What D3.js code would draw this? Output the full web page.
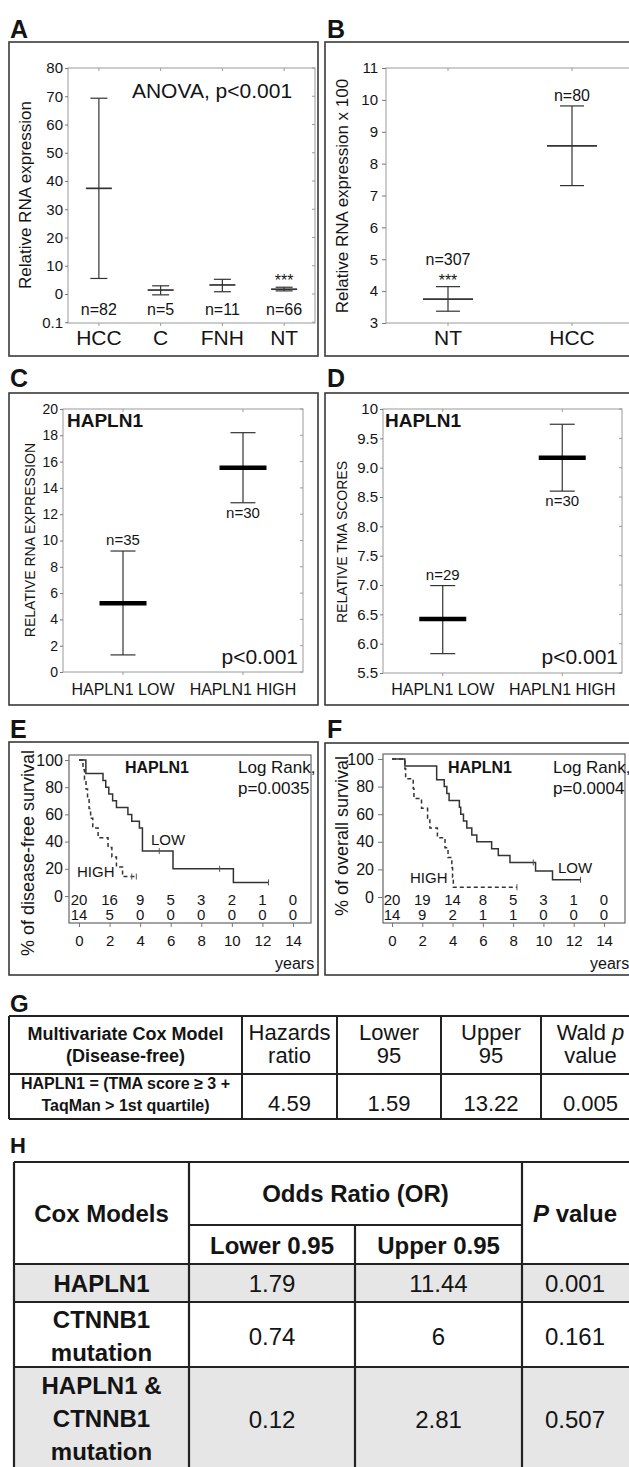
<!DOCTYPE html>
<html><head><meta charset="utf-8">
<script src="https://cdn.jsdelivr.net/npm/d3@7"></script>
<style>
body{margin:0;background:#fff}
svg{display:block}
text{font-family:"Liberation Sans",Arial,Helvetica,sans-serif;fill:#141414}
</style>
</head><body>
<svg id="fig" width="629" height="1467"></svg>
<script>
// ---------------- DATA ----------------
// Panel A
const aCategories = ["HCC", "C", "FNH", "NT"];
const aMean  = [37.4, 1.4, 3.2, 1.7];
const aUpper = [69.3, 2.9, 5.2, 2.4];
const aLower = [5.5, -0.3, 0.8, 1.1];
const aN     = ["n=82", "n=5", "n=11", "n=66"];
const aStars = ["", "", "", "***"];
const aTicks = [-10, 0, 10, 20, 30, 40, 50, 60, 70, 80];
const aTickLabels = ["0.1", "0", "10", "20", "30", "40", "50", "60", "70", "80"];
// Panel B
const bCategories = ["NT", "HCC"];
const bMean  = [3.75, 8.56];
const bUpper = [4.14, 9.81];
const bLower = [3.37, 7.31];
const bN     = ["n=307", "n=80"];
const bStars = ["***", ""];
const bTicks = [3, 4, 5, 6, 7, 8, 9, 10, 11];
// Panel C
const cCategories = ["HAPLN1 LOW", "HAPLN1 HIGH"];
const cMean  = [5.22, 15.54];
const cUpper = [9.2, 18.2];
const cLower = [1.3, 12.87];
const cN     = ["n=35", "n=30"];
const cNPos  = ["above", "below"];
const cTicks = [0, 2, 4, 6, 8, 10, 12, 14, 16, 18, 20];
// Panel D
const dCategories = ["HAPLN1 LOW", "HAPLN1 HIGH"];
const dMean  = [6.42, 9.17];
const dUpper = [6.99, 9.74];
const dLower = [5.83, 8.6];
const dN     = ["n=29", "n=30"];
const dNPos  = ["above", "below"];
const dTicks = [5.5, 6, 6.5, 7, 7.5, 8, 8.5, 9, 9.5, 10];
// Panels E/F (Kaplan-Meier)
const kmYearTicks = [0, 2, 4, 6, 8, 10, 12, 14];
const kmPctTicks  = [0, 20, 40, 60, 80, 100];
const eLowTimes  = [0, 0.45, 1.57, 1.75, 1.95, 2.2, 2.45, 3.2, 3.45, 3.95, 4.15, 6.15, 10.1];
const eLowSurv   = [100, 90, 85, 80, 75, 70, 65, 60, 55, 50, 33, 20, 10];
const eLowEnd    = 12.4;
const eLowCensor = [5.25, 9.2, 12.4];
const eHighTimes  = [0, 0.26, 0.36, 0.46, 0.56, 0.66, 0.76, 0.9, 1.25, 1.9, 2.15, 2.45, 2.85];
const eHighSurv   = [100, 92.9, 85.7, 78.6, 71.4, 64.3, 57.1, 50, 42.9, 35.7, 28.6, 21.4, 14.3];
const eHighEnd    = 3.75;
const eHighCensor = [3.45, 3.75];
const eRiskLow  = [20, 16, 9, 5, 3, 2, 1, 0];
const eRiskHigh = [14, 5, 0, 0, 0, 0, 0, 0];
const fLowTimes  = [0, 0.85, 2.95, 3.45, 3.62, 3.77, 4.45, 4.54, 4.72, 4.94, 5.27, 5.6, 6.58, 7.02, 7.79, 9.48, 10.6];
const fLowSurv   = [100, 95, 85, 80, 75, 70, 65, 60, 55, 50, 45, 40, 35, 30, 25, 18.8, 12.5];
const fLowEnd    = 12.45;
const fLowCensor = [9.33, 12.45];
const fHighTimes  = [0, 0.85, 0.9, 1.4, 1.45, 1.95, 2.35, 2.5, 3.0, 3.5, 3.7, 3.95, 4.0, 4.05];
const fHighSurv   = [100, 92.9, 85.7, 78.6, 71.4, 64.3, 57.1, 50, 42.9, 35.7, 28.6, 21.4, 14.3, 7.1];
const fHighEnd    = 8.25;
const fHighCensor = [8.25];
const fRiskLow  = [20, 19, 14, 8, 5, 3, 1, 0];
const fRiskHigh = [14, 9, 2, 1, 1, 0, 0, 0];
// Panel G table
const gHeader = [["Multivariate Cox Model", "(Disease-free)"], ["Hazards", "ratio"], ["Lower", "95"], ["Upper", "95"], ["Wald p", "value"]];
const gModel  = ["HAPLN1 = (TMA score \u2265 3 +", "TaqMan > 1st quartile)"];
const gValues = ["4.59", "1.59", "13.22", "0.005"];
// Panel H table
const hModels = [["HAPLN1"], ["CTNNB1", "mutation"], ["HAPLN1 &", "CTNNB1", "mutation"]];
const hLower  = ["1.79", "0.74", "0.12"];
const hUpper  = ["11.44", "6", "2.81"];
const hP      = ["0.001", "0.161", "0.507"];
const hShade  = [true, false, true];

// ---------------- DRAWING ----------------
const svg = d3.select("#fig");
const FONT = '"Liberation Sans", Arial, Helvetica, sans-serif';
const INK = "#141414";

function txt(g, x, y, s, o = {}) {
  const t = g.append("text").attr("x", x).attr("y", y).text(s)
    .attr("font-size", o.size || 15).attr("text-anchor", o.anchor || "start");
  if (o.bold) t.attr("font-weight", "bold");
  if (o.rotate) t.attr("transform", `rotate(-90 ${x} ${y})`);
  return t;
}
function frame(x, y, w, h) {
  svg.append("rect").attr("x", x).attr("y", y).attr("width", w).attr("height", h)
    .attr("fill", "none").attr("stroke", "#3a3a3a").attr("stroke-width", 1.6);
}
function letter(x, y, s, size) { txt(svg, x, y, s, {size: size || 25, bold: true}); }

function styleAxis(ax, size) {
  ax.select(".domain").remove();
  ax.selectAll("line").attr("stroke", "#777");
  ax.selectAll("text").attr("font-size", size).attr("font-family", FONT).attr("fill", INK);
}

function errorPanel(p) {
  const g = svg.append("g");
  const x = d3.scaleBand().domain(p.cats).range([p.x0, p.x1]);
  const y = d3.scaleLinear().domain(p.domain).range([p.yb, p.yt]);
  const cx = c => x(c) + x.bandwidth() / 2;
  g.append("rect").attr("x", p.x0).attr("y", p.y0).attr("width", p.x1 - p.x0).attr("height", p.y1 - p.y0)
    .attr("fill", "none").attr("stroke", "#9a9a9a").attr("stroke-width", 1);
  const ax = g.append("g").attr("transform", `translate(${p.x0},0)`)
    .call(d3.axisLeft(y).tickValues(p.ticks).tickSize(p.tickLen).tickPadding(p.tickPad).tickFormat(p.fmt));
  styleAxis(ax, p.tickFont);
  g.selectAll(null).data(p.ticks).join("line")
    .attr("x1", p.x1 - 3).attr("x2", p.x1).attr("y1", d => y(d)).attr("y2", d => y(d)).attr("stroke", "#9a9a9a");
  g.selectAll(null).data(p.cats).join("line")
    .attr("x1", cx).attr("x2", cx).attr("y1", p.y0).attr("y2", p.y0 + 3).attr("stroke", "#9a9a9a");
  g.selectAll(null).data(p.cats).join("line")
    .attr("x1", cx).attr("x2", cx).attr("y1", p.y1).attr("y2", p.y1 + 3).attr("stroke", "#9a9a9a");
  p.cats.forEach((c, i) => {
    const X = cx(c);
    txt(g, X, p.catY, c, {size: p.catFont, anchor: "middle"});
    g.append("line").attr("x1", X).attr("x2", X).attr("y1", y(p.upper[i])).attr("y2", y(p.lower[i]))
      .attr("stroke", "#333").attr("stroke-width", 1.2);
    [p.upper[i], p.lower[i]].forEach(v => g.append("line")
      .attr("x1", X - p.capW / 2).attr("x2", X + p.capW / 2).attr("y1", y(v)).attr("y2", y(v))
      .attr("stroke", "#333").attr("stroke-width", 1.2));
    g.append("line").attr("x1", X - p.meanW / 2).attr("x2", X + p.meanW / 2)
      .attr("y1", y(p.mean[i])).attr("y2", y(p.mean[i]))
      .attr("stroke", p.thick ? "#000" : "#333").attr("stroke-width", p.thick ? 4.5 : 1.7);
    const starY = y(p.upper[i]) - 2;
    if (p.stars && p.stars[i]) txt(g, X, starY + 1, p.stars[i], {size: 16, anchor: "middle"});
    if (p.nMode === "bottom") {
      txt(g, X, p.nY, p.n[i], {size: p.nFont, anchor: "middle"});
    } else if (p.nMode === "aboveStars") {
      const base = p.stars[i] ? starY - 20 : y(p.upper[i]) - 5;
      txt(g, X, base, p.n[i], {size: p.nFont, anchor: "middle"});
    } else {
      if (p.nPos[i] === "above") txt(g, X, y(p.upper[i]) - 6, p.n[i], {size: p.nFont, anchor: "middle"});
      else txt(g, X, y(p.lower[i]) + 15, p.n[i], {size: p.nFont, anchor: "middle"});
    }
  });
  txt(g, p.labX, p.labY, p.label, {size: p.labFont, anchor: "middle", rotate: true});
  return {g, x, y};
}

// ----- Panel A -----
letter(10, 38, "A"); frame(9, 42, 309, 314);
const pa = errorPanel({cats: aCategories, mean: aMean, upper: aUpper, lower: aLower, n: aN, stars: aStars,
  nMode: "bottom", nY: 315, nFont: 16, x0: 68, x1: 315, y0: 68, y1: 323, yt: 68, yb: 322.25, domain: [-10, 80],
  ticks: aTicks, fmt: (d, i) => aTickLabels[i], tickLen: 3, tickPad: 2, tickFont: 15,
  catY: 345, catFont: 21, meanW: 26, capW: 17, thick: false,
  label: "Relative RNA expression", labX: 31, labY: 195, labFont: 17});
txt(pa.g, 212, 98, "ANOVA, p<0.001", {size: 21, anchor: "middle"});

// ----- Panel B -----
letter(327, 38, "B"); frame(325, 42, 330, 314);
errorPanel({cats: bCategories, mean: bMean, upper: bUpper, lower: bLower, n: bN, stars: bStars,
  nMode: "aboveStars", nFont: 16, x0: 386, x1: 634, y0: 68, y1: 323, yt: 68, yb: 323, domain: [3, 11],
  ticks: bTicks, fmt: d3.format("d"), tickLen: 4, tickPad: 4, tickFont: 15,
  catY: 345, catFont: 21, meanW: 50, capW: 24, thick: false,
  label: "Relative RNA expression x 100", labX: 348, labY: 196, labFont: 17});

// ----- Panel C -----
letter(10, 387, "C"); frame(9, 393, 309, 312);
const pc = errorPanel({cats: cCategories, mean: cMean, upper: cUpper, lower: cLower, n: cN, nPos: cNPos,
  nMode: "pos", nFont: 15, x0: 63, x1: 303, y0: 409, y1: 672, yt: 409, yb: 672, domain: [0, 20],
  ticks: cTicks, fmt: d3.format("d"), tickLen: 3, tickPad: 2, tickFont: 14,
  catY: 695, catFont: 16, meanW: 47, capW: 25, thick: true,
  label: "RELATIVE RNA EXPRESSION", labX: 35, labY: 540, labFont: 14});
txt(pc.g, 67, 427, "HAPLN1", {size: 19, bold: true});
txt(pc.g, 298, 664, "p<0.001", {size: 21, anchor: "end"});

// ----- Panel D -----
letter(327, 387, "D"); frame(325, 393, 330, 312);
const pd = errorPanel({cats: dCategories, mean: dMean, upper: dUpper, lower: dLower, n: dN, nPos: dNPos,
  nMode: "pos", nFont: 15, x0: 383, x1: 622, y0: 409, y1: 673, yt: 409, yb: 673, domain: [5.5, 10],
  ticks: dTicks, fmt: d => d === 10 ? "10" : d3.format(".1f")(d), tickLen: 3, tickPad: 2, tickFont: 15,
  catY: 695, catFont: 16, meanW: 47, capW: 25, thick: true,
  label: "RELATIVE TMA SCORES", labX: 347, labY: 542, labFont: 14});
txt(pd.g, 385, 427, "HAPLN1", {size: 19, bold: true});
txt(pd.g, 618, 664, "p<0.001", {size: 21, anchor: "end"});

// ----- KM panels -----
function kmPanel(p) {
  const g = svg.append("g");
  const x = d3.scaleLinear().domain([0, 14]).range([p.tx0, p.tx1]);
  const y = d3.scaleLinear().domain([0, 100]).range([p.s0, p.s100]);
  g.append("rect").attr("x", p.x0).attr("y", p.y0).attr("width", p.x1 - p.x0).attr("height", p.y1 - p.y0)
    .attr("fill", "none").attr("stroke", "#666").attr("stroke-width", 1.2);
  const ay = g.append("g").attr("transform", `translate(${p.x0},0)`)
    .call(d3.axisLeft(y).tickValues(kmPctTicks).tickSize(p.yTick).tickPadding(p.yPad));
  styleAxis(ay, 16);
  const axb = g.append("g").attr("transform", `translate(0,${p.y1})`)
    .call(d3.axisBottom(x).tickValues(kmYearTicks).tickSize(4).tickPadding(8));
  styleAxis(axb, 15);
  const line = d3.line().x(d => x(d[0])).y(d => y(d[1])).curve(d3.curveStepAfter);
  p.series.forEach(s => {
    const pts = s.times.map((t, i) => [t, s.surv[i]]);
    pts.push([s.end, s.surv[s.surv.length - 1]]);
    g.append("path").attr("d", line(pts)).attr("fill", "none").attr("stroke", "#333")
      .attr("stroke-width", 1.5).attr("stroke-dasharray", s.dashed ? "4,3" : null);
    s.censor.forEach(c => {
      const idx = d3.bisectRight(s.times, c) - 1;
      const v = s.surv[Math.max(0, idx)];
      g.append("line").attr("x1", x(c)).attr("x2", x(c)).attr("y1", y(v) - 3).attr("y2", y(v) + 3)
        .attr("stroke", "#555").attr("stroke-width", 1);
    });
  });
  kmYearTicks.forEach((t, i) => {
    txt(g, x(t), p.r1, p.riskLow[i], {size: 15, anchor: "middle"});
    txt(g, x(t), p.r2, p.riskHigh[i], {size: 15, anchor: "middle"});
  });
  txt(g, p.titleX, 773, "HAPLN1", {size: 16, bold: true});
  txt(g, p.lrX, 773, "Log Rank,", {size: 17});
  txt(g, p.lrX, 794, p.pval, {size: 17});
  txt(g, p.lowX, p.lowY, "LOW", {size: 15});
  txt(g, p.highX, p.highY, "HIGH", {size: 15});
  txt(g, p.yearsX, 969, "years", {size: 16});
  txt(g, p.labX, p.labY, p.label, {size: 18, anchor: "middle", rotate: true});
}

letter(10, 738, "E"); frame(9, 742, 309, 233);
kmPanel({x0: 69, x1: 311, y0: 755, y1: 923, tx0: 79, tx1: 293, s0: 896, s100: 760,
  yTick: 4, yPad: 2,
  series: [
    {times: eLowTimes, surv: eLowSurv, end: eLowEnd, censor: eLowCensor, dashed: false},
    {times: eHighTimes, surv: eHighSurv, end: eHighEnd, censor: eHighCensor, dashed: true}],
  riskLow: eRiskLow, riskHigh: eRiskHigh, r1: 905, r2: 920,
  titleX: 125, lrX: 238, pval: "p=0.0035", lowX: 151, lowY: 845, highX: 77, highY: 877,
  yearsX: 275, label: "% of disease-free survival", labX: 34, labY: 853});

letter(327, 738, "F"); frame(325, 743, 330, 232);
kmPanel({x0: 383, x1: 625, y0: 754, y1: 923, tx0: 392, tx1: 604, s0: 897, s100: 759,
  yTick: 5, yPad: 4,
  series: [
    {times: fLowTimes, surv: fLowSurv, end: fLowEnd, censor: fLowCensor, dashed: false},
    {times: fHighTimes, surv: fHighSurv, end: fHighEnd, censor: fHighCensor, dashed: true}],
  riskLow: fRiskLow, riskHigh: fRiskHigh, r1: 905, r2: 920,
  titleX: 448, lrX: 553, pval: "p=0.0004", lowX: 558, lowY: 873, highX: 410, highY: 883,
  yearsX: 590, label: "% of overall survival", labX: 348, labY: 836});

// ----- Panel G table -----
letter(10, 1012, "G", 24);
const gCols = [9, 242, 337, 441, 541, 640];
const gRows = [1016, 1074, 1119];
const gg = svg.append("g");
gCols.slice(0, -1).forEach((c, i) => {
  const cx = (c + gCols[i + 1]) / 2;
  if (i === 0) {
    txt(gg, cx, 1040, gHeader[0][0], {size: 18, bold: true, anchor: "middle"});
    txt(gg, cx, 1062, gHeader[0][1], {size: 18, bold: true, anchor: "middle"});
    txt(gg, cx, 1089, gModel[0], {size: 16, bold: true, anchor: "middle"});
    txt(gg, cx, 1111, gModel[1], {size: 16, bold: true, anchor: "middle"});
  } else {
    const h = gHeader[i][0];
    if (h === "Wald p") {
      const t = txt(gg, cx, 1040, "Wald ", {size: 22, anchor: "middle"});
      t.append("tspan").attr("font-style", "italic").text("p");
    } else txt(gg, cx, 1040, h, {size: 22, anchor: "middle"});
    txt(gg, cx, 1063, gHeader[i][1], {size: 22, anchor: "middle"});
    txt(gg, cx, 1111, gValues[i - 1], {size: 22, anchor: "middle"});
  }
});
gCols.forEach(c => gg.append("line").attr("x1", c).attr("x2", c).attr("y1", gRows[0]).attr("y2", gRows[2])
  .attr("stroke", "#222").attr("stroke-width", 2));
gRows.forEach(r => gg.append("line").attr("x1", gCols[0]).attr("x2", 652).attr("y1", r).attr("y2", r)
  .attr("stroke", "#222").attr("stroke-width", 2));

// ----- Panel H table -----
letter(10, 1153, "H", 22);
const hCols = [14, 189, 355, 522, 660];
const hRowEdges = [1264, 1302, 1367, 1480];
const hg = svg.append("g");
hModels.forEach((m, i) => {
  if (hShade[i]) hg.append("rect").attr("x", hCols[0]).attr("y", hRowEdges[i]).attr("width", hCols[4] - hCols[0])
    .attr("height", hRowEdges[i + 1] - hRowEdges[i]).attr("fill", "#e6e6e6");
});
txt(hg, (hCols[0] + hCols[1]) / 2, 1222, "Cox Models", {size: 24, bold: true, anchor: "middle"});
txt(hg, (hCols[1] + hCols[3]) / 2, 1202, "Odds Ratio (OR)", {size: 24, bold: true, anchor: "middle"});
txt(hg, (hCols[1] + hCols[2]) / 2, 1254, "Lower 0.95", {size: 24, bold: true, anchor: "middle"});
txt(hg, (hCols[2] + hCols[3]) / 2, 1254, "Upper 0.95", {size: 24, bold: true, anchor: "middle"});
const pv = txt(hg, 575, 1222, "", {size: 24, bold: true, anchor: "middle"});
pv.append("tspan").attr("font-style", "italic").text("P");
pv.append("tspan").text(" value");
const lineH = 33;
hModels.forEach((m, i) => {
  const top = i === 2 ? 1394 : (i === 1 ? 1328 : 1292);
  m.forEach((s, k) => txt(hg, (hCols[0] + hCols[1]) / 2, top + k * lineH, s, {size: 24, bold: true, anchor: "middle"}));
  const vy = i === 0 ? 1292 : (i === 1 ? 1345 : 1428);
  txt(hg, (hCols[1] + hCols[2]) / 2, vy, hLower[i], {size: 24, anchor: "middle"});
  txt(hg, (hCols[2] + hCols[3]) / 2, vy, hUpper[i], {size: 24, anchor: "middle"});
  txt(hg, 575, vy, hP[i], {size: 24, anchor: "middle"});
});
const hStroke = (x1, y1, x2, y2) => hg.append("line").attr("x1", x1).attr("y1", y1).attr("x2", x2).attr("y2", y2)
  .attr("stroke", "#222").attr("stroke-width", 2.2);
hStroke(hCols[0], 1162, hCols[4], 1162);
hStroke(hCols[1], 1225, hCols[3], 1225);
hRowEdges.slice(0, 3).forEach(r => hStroke(hCols[0], r, hCols[4], r));
hStroke(hCols[0], 1162, hCols[0], 1480);
hStroke(hCols[1], 1162, hCols[1], 1480);
hStroke(hCols[2], 1225, hCols[2], 1480);
hStroke(hCols[3], 1162, hCols[3], 1480);
</script>
</body></html>
